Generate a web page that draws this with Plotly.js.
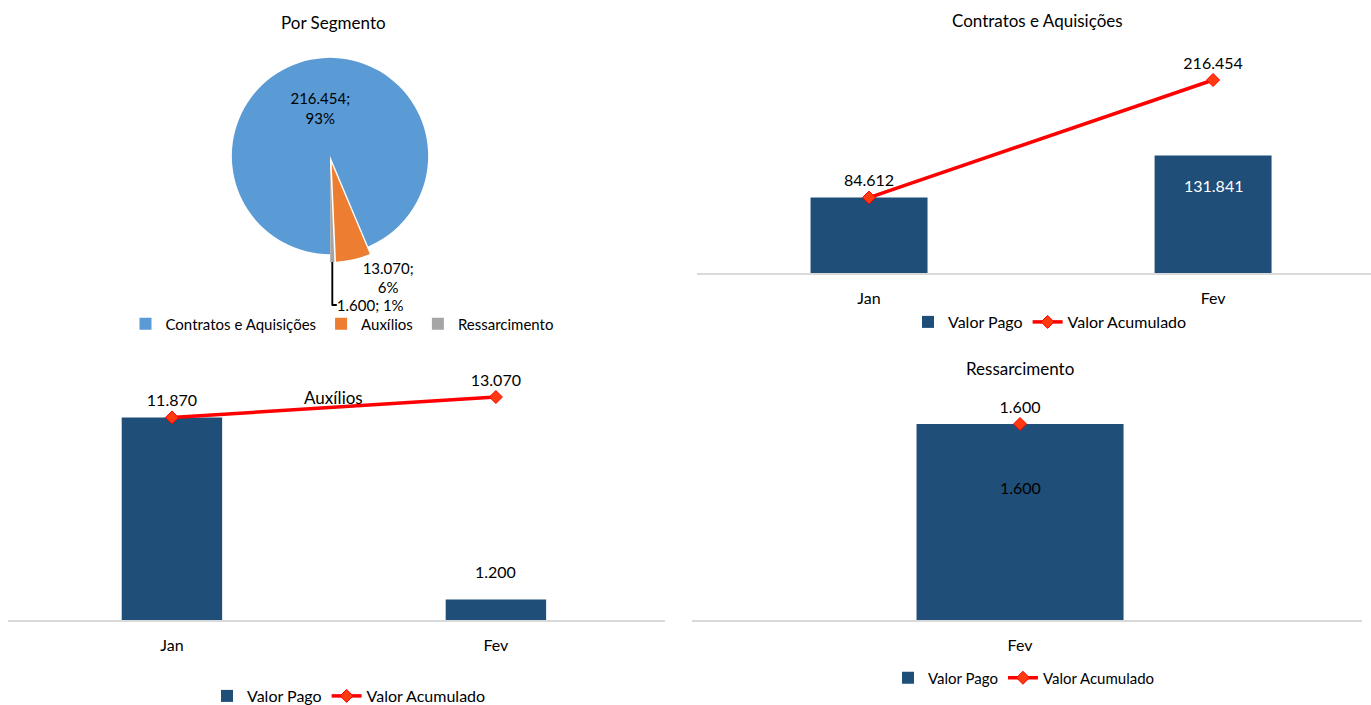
<!DOCTYPE html>
<html><head><meta charset="utf-8">
<script src="https://cdn.plot.ly/plotly-3.0.1.min.js"></script>
<style>html,body{margin:0;padding:0;background:#fff}#chart{width:1371px;height:705px}</style>
</head><body><div id="chart"></div>
<script>
// ---- data ----
const segLabels = ['Contratos e Aquisições', 'Auxílios', 'Ressarcimento'];
const segValues = [216454, 13070, 1600];
const segPctLabels = ['93%', '6%', '1%'];

const contratosMeses = ['Jan', 'Fev'];
const contratosPago = [84612, 131841];
const contratosAcum = [84612, 216454];
const contratosBarLabelIdx = [1];

const auxiliosMeses = ['Jan', 'Fev'];
const auxiliosPago = [11870, 1200];
const auxiliosAcum = [11870, 13070];
const auxiliosBarLabelIdx = [1];

const ressMeses = ['Fev'];
const ressPago = [1600];
const ressAcum = [1600];
const ressBarLabelIdx = [0];

// ---- layout helpers ----
const W = 1371, H = 705;
const fx = p => p / W;
const fy = p => 1 - p / H;
const FONT = 'Lato, "Open Sans", sans-serif';
const BAR = '#1F4E79';
const RED = '#FF0000';
const fmt = v => v.toLocaleString('de-DE');

const lineStyle = {color: RED, width: 3.5};
const markerStyle = {symbol: 'diamond', size: 10, color: '#FF3A10', line: {color: RED, width: 1}};

const traces = [];

traces.push({
  type: 'pie', labels: segLabels, values: segValues, text: segPctLabels,
  sort: false, direction: 'clockwise', rotation: 180,
  pull: [0, 0.08, 0.08],
  marker: {colors: ['#5B9BD5', '#ED7D31', '#A5A5A5'], line: {width: 0}},
  texttemplate: ['%{value:,.0f};<br>%{text}', '%{value:,.0f};<br>%{text}', '%{value:,.0f}; %{text}'],
  textposition: ['inside', 'outside', 'outside'],
  textfont: {color: '#000', size: 15, family: FONT},
  insidetextfont: {color: '#000', size: 15, family: FONT},
  outsidetextfont: {color: '#000', size: 15, family: FONT},
  domain: {x: [fx(150), fx(510)], y: [fy(262), fy(50)]},
  legend: 'legend', hoverinfo: 'label+value+percent'
});

function addCombo(xa, ya, legendName, cats, pago, acum, barWidth) {
  traces.push({
    type: 'bar', x: cats, y: pago, name: 'Valor Pago', xaxis: xa, yaxis: ya,
    marker: {color: BAR}, width: barWidth, legend: legendName, textposition: 'none'
  });
  traces.push({
    type: 'scatter', mode: 'lines+markers+text', x: cats, y: acum, name: 'Valor Acumulado',
    xaxis: xa, yaxis: ya, line: lineStyle, marker: markerStyle, legend: legendName,
    texttemplate: '%{y:,.0f}', textposition: 'top center',
    textfont: {size: 16, color: '#000', family: FONT}, cliponaxis: false
  });
}
addCombo('x', 'y', 'legend2', contratosMeses, contratosPago, contratosAcum, 0.34);
addCombo('x2', 'y2', 'legend3', auxiliosMeses, auxiliosPago, auxiliosAcum, 0.31);
addCombo('x3', 'y3', 'legend4', ressMeses, ressPago, ressAcum, 0.309);

const titleFont = {size: 17, color: '#000', family: FONT};
const annotations = [
  {text: 'Por Segmento', x: fx(333), y: fy(22), xref: 'paper', yref: 'paper', xanchor: 'center', yanchor: 'middle', showarrow: false, font: titleFont},
  {text: 'Contratos e Aquisições', x: fx(1037), y: fy(20), xref: 'paper', yref: 'paper', xanchor: 'center', yanchor: 'middle', showarrow: false, font: titleFont},
  {text: 'Auxílios', x: fx(333), y: fy(397), xref: 'paper', yref: 'paper', xanchor: 'center', yanchor: 'middle', showarrow: false, font: titleFont},
  {text: 'Ressarcimento', x: fx(1020), y: fy(368), xref: 'paper', yref: 'paper', xanchor: 'center', yanchor: 'middle', showarrow: false, font: titleFont}
];
const lblFont = c => ({size: 16, color: c, family: FONT});
contratosBarLabelIdx.forEach(i => annotations.push({x: contratosMeses[i], y: contratosPago[i], xref: 'x', yref: 'y', xanchor: 'center', yanchor: 'middle', text: fmt(contratosPago[i]), showarrow: false, yshift: -30, font: lblFont('#fff')}));
auxiliosBarLabelIdx.forEach(i => annotations.push({x: auxiliosMeses[i], y: auxiliosPago[i], xref: 'x2', yref: 'y2', xanchor: 'center', yanchor: 'middle', text: fmt(auxiliosPago[i]), showarrow: false, yshift: 28, font: lblFont('#000')}));
ressBarLabelIdx.forEach(i => annotations.push({x: ressMeses[i], y: ressPago[i], xref: 'x3', yref: 'y3', xanchor: 'center', yanchor: 'middle', text: fmt(ressPago[i]), showarrow: false, yshift: -64, font: lblFont('#000')}));

const xBase = {type: 'category', showline: true, linecolor: '#D9D9D9', linewidth: 1.5, ticks: '', showgrid: false, zeroline: false, fixedrange: true, tickfont: {size: 16, color: '#000', family: FONT}, ticklen: 0, ticklabelstandoff: 10};
const yBase = {showline: false, showgrid: false, zeroline: false, showticklabels: false, ticks: '', fixedrange: true};

const legBase = {orientation: 'h', xanchor: 'center', yanchor: 'middle', bgcolor: 'rgba(0,0,0,0)', font: {size: 16, color: '#000', family: FONT}, itemclick: false, itemdoubleclick: false, tracegroupgap: 0, traceorder: 'normal'};

const layout = {
  width: W, height: H, margin: {l: 0, r: 0, t: 0, b: 0, autoexpand: false},
  paper_bgcolor: '#fff', plot_bgcolor: 'rgba(0,0,0,0)',
  separators: ',.', font: {family: FONT, color: '#000'},
  barmode: 'overlay', showlegend: true,
  xaxis: Object.assign({}, xBase, {domain: [fx(697), fx(1371)], range: [-0.5, 1.459], anchor: 'y'}),
  yaxis: Object.assign({}, yBase, {domain: [fy(273), fy(60)], range: [0, 238886], anchor: 'x'}),
  xaxis2: Object.assign({}, xBase, {domain: [fx(8), fx(665)], range: [-0.506, 1.522], anchor: 'y2'}),
  yaxis2: Object.assign({}, yBase, {domain: [fy(620), fy(360)], range: [0, 15240], anchor: 'x2'}),
  xaxis3: Object.assign({}, xBase, {domain: [fx(692), fx(1362)], range: [-0.4896, 0.5104], anchor: 'y3'}),
  yaxis3: Object.assign({}, yBase, {domain: [fy(620), fy(380)], range: [0, 1959], anchor: 'x3'}),
  legend: Object.assign({}, legBase, {x: fx(342), y: fy(324), font: {size: 15, color: '#000', family: FONT}}),
  legend2: Object.assign({}, legBase, {x: fx(1050), y: fy(322)}),
  legend3: Object.assign({}, legBase, {x: fx(349), y: fy(696)}),
  legend4: Object.assign({}, legBase, {x: fx(1024), y: fy(678), font: {size: 15, color: '#000', family: FONT}}),
  annotations: annotations
};

Plotly.newPlot('chart', traces, layout, {displayModeBar: false, staticPlot: true});
</script>
</body></html>
